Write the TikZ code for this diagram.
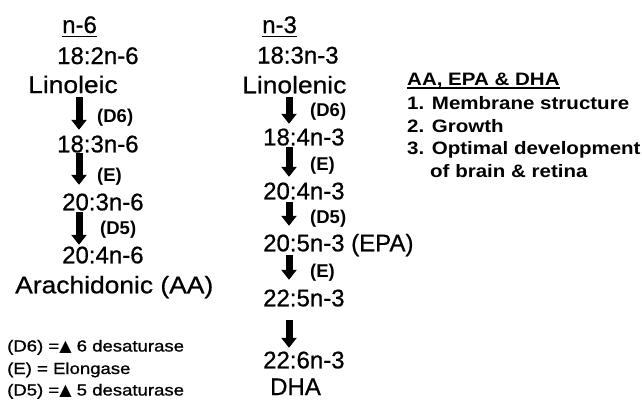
\documentclass[tikz,border=0pt]{standalone}
\usepackage{fontspec}
\setmainfont{Liberation Sans}
\newfontfamily\codefont[FakeBold=0.7]{Liberation Sans}
\newfontfamily\wordfont[FakeStretch=1.1,FakeBold=0.7]{Liberation Sans}
\newfontfamily\panelfont[FakeStretch=1.14]{Liberation Sans}
\newfontfamily\legfont[FakeStretch=1.16,FakeBold=1]{Liberation Sans}
\newfontfamily\symfont{DejaVu Sans}
\usetikzlibrary{arrows.meta}
\begin{document}
\begin{tikzpicture}[x=1pt,y=-1pt]
\tikzset{
 code/.style={font=\codefont\fontsize{24}{24}\selectfont, anchor=base west, inner sep=0pt, text height=16.7pt, text depth=0pt},
 word/.style={font=\wordfont\fontsize{24}{24}\selectfont, anchor=base west, inner sep=0pt, text height=16.7pt, text depth=0pt},
 lab/.style={font=\bfseries\fontsize{18.5}{18.5}\selectfont, anchor=base west, inner sep=0pt},
 panel/.style={font=\panelfont\bfseries\fontsize{18}{22}\selectfont, anchor=base west, inner sep=0pt},
 leg/.style={font=\legfont\fontsize{16}{16}\selectfont, anchor=base west, inner sep=0pt},
 fat/.style={line width=7pt, -{Triangle[width=15pt,length=10pt]}},
 ul/.style={line width=1.8pt}
}
\fill[white] (0,0) rectangle (642,399);
\useasboundingbox (0,0) rectangle (642,399);
\coordinate (axL) at (79,0);
\coordinate (axC) at (289,0);
% left column
\node[code] (n6) at (62,33) {n-6};
\node[code] (l1) at (57,64) {18:2n-6};
\node[word] (l2) at (28,93) {Linoleic};
\node[lab] (ld6) at (97,122.5) {(D6)};
\node[code] (l3) at (57,152.3) {18:3n-6};
\node[lab] (le) at (97,181.5) {(E)};
\node[code] (l4) at (62,210.3) {20:3n-6};
\node[lab] (ld5) at (100,234.5) {(D5)};
\node[code] (l5) at (62,263.3) {20:4n-6};
\node[word] (l6) at (15,293.3) {Arachidonic (AA)};
\draw[ul] ([yshift=-3.5pt]n6.base west) -- ([yshift=-3.5pt]n6.base east);
% centre column
\node[code] (n3) at (262,33) {n-3};
\node[code] (c1) at (257,63.5) {18:3n-3};
\node[word] (c2) at (242,93.3) {Linolenic};
\node[lab] (cd6) at (310,116.5) {(D6)};
\node[code] (c3) at (263,145.3) {18:4n-3};
\node[lab] (ce) at (310,170.5) {(E)};
\node[code] (c4) at (263,199.3) {20:4n-3};
\node[lab] (cd5) at (310,223.5) {(D5)};
\node[code] (c5) at (263,251.3) {20:5n-3 (EPA)};
\node[lab] (ce2) at (310,277.5) {(E)};
\node[code] (c6) at (263,306.3) {22:5n-3};
\node[code] (c7) at (263,368.3) {22:6n-3};
\node[code] (c8) at (270,395) {DHA};
\draw[ul] ([yshift=-3.5pt]n3.base west) -- ([yshift=-3.5pt]n3.base east);
% arrows
\draw[fat, shorten <=4pt, shorten >=5.6pt] (l2.south -| axL) -- (l3.north -| axL);
\draw[fat, shorten <=0.7pt, shorten >=8.6pt] (l3.south -| axL) -- (l4.north -| axL);
\draw[fat, shorten <=1.7pt, shorten >=1.6pt] (l4.south -| axL) -- (l5.north -| axL);
\draw[fat, shorten <=3.7pt, shorten >=4.6pt] (c2.south -| axC) -- (c3.north -| axC);
\draw[fat, shorten <=1.7pt, shorten >=5.6pt] (c3.south -| axC) -- (c4.north -| axC);
\draw[fat, shorten <=2.7pt, shorten >=8.6pt] (c4.south -| axC) -- (c5.north -| axC);
\draw[fat, shorten <=3.7pt, shorten >=9.6pt] (c5.south -| axC) -- (c6.north -| axC);
\draw[fat, shorten <=13.7pt, shorten >=3.6pt] (c6.south -| axC) -- (c7.north -| axC);
% right panel
\node[panel] (t0) at (407,85) {AA, EPA \& DHA};
\draw[ul] ([yshift=-3pt]t0.base west) -- ([yshift=-3pt]t0.base east);
\node[panel] (t1) at (407,109.5) {1. Membrane structure};
\node[panel] (t2) at (407,132) {2. Growth};
\node[panel] (t3) at (407,154.5) {3. Optimal development};
\node[panel] (t4) at (430,177) {of brain \& retina};
% legend
\node[leg] (g1) at (7,351.5) {(D6) ={\symfont ▲} 6 desaturase};
\node[leg] (g2) at (7,374) {(E) = Elongase};
\node[leg] (g3) at (7,395.5) {(D5) ={\symfont ▲} 5 desaturase};
\end{tikzpicture}
\end{document}
